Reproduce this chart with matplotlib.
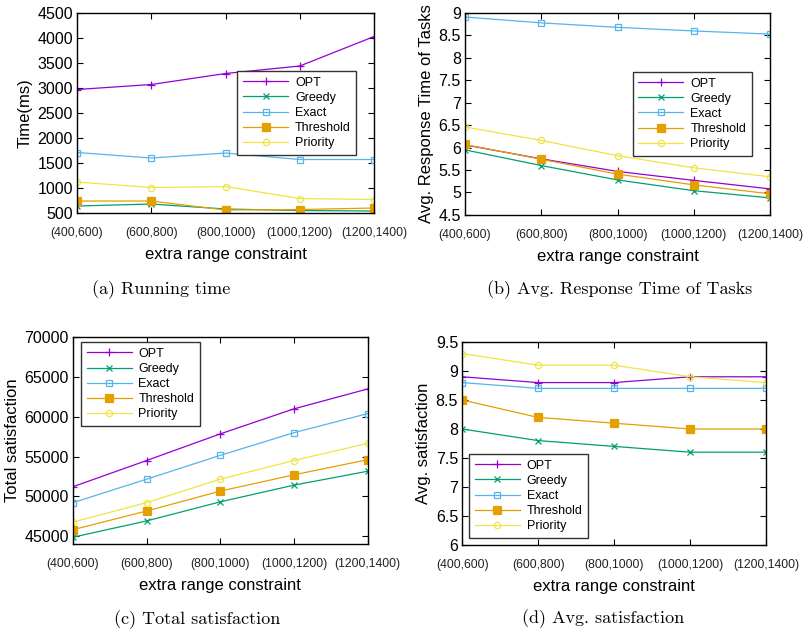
import matplotlib
matplotlib.use("Agg")
import matplotlib.pyplot as plt
import numpy as np

# 1. Input
categories = ["(400,600)", "(600,800)", "(800,1000)", "(1000,1200)", "(1200,1400)"]
names = ["OPT", "Greedy", "Exact", "Threshold", "Priority"]

time_opt = [2970, 3070, 3290, 3440, 4030]
time_greedy = [640, 680, 580, 550, 540]
time_exact = [1710, 1600, 1700, 1570, 1570]
time_threshold = [740, 740, 560, 570, 600]
time_priority = [1120, 1010, 1030, 790, 770]

resp_opt = [6.06, 5.75, 5.47, 5.27, 5.08]
resp_greedy = [5.95, 5.60, 5.28, 5.04, 4.88]
resp_exact = [8.91, 8.78, 8.68, 8.60, 8.53]
resp_threshold = [6.07, 5.74, 5.41, 5.17, 4.97]
resp_priority = [6.46, 6.16, 5.82, 5.55, 5.35]

total_opt = [51200, 54500, 57850, 61000, 63500]
total_greedy = [44850, 46900, 49300, 51400, 53150]
total_exact = [49200, 52150, 55150, 58000, 60400]
total_threshold = [45800, 48150, 50650, 52700, 54600]
total_priority = [46750, 49200, 52150, 54500, 56650]

avg_opt = [8.9, 8.8, 8.8, 8.9, 8.9]
avg_greedy = [8.0, 7.8, 7.7, 7.6, 7.6]
avg_exact = [8.8, 8.7, 8.7, 8.7, 8.7]
avg_threshold = [8.5, 8.2, 8.1, 8.0, 8.0]
avg_priority = [9.3, 9.1, 9.1, 8.9, 8.8]

# 2. Process
colors = ["#9400d3", "#009e73", "#56b4e9", "#e69f00", "#f0e442"]
markers = ["+", "x", "s", "s", "o"]
fills = [True, True, False, True, False]
sizes = [6, 4.5, 4.5, 5.5, 4.5]

panels = [
    ([time_opt, time_greedy, time_exact, time_threshold, time_priority],
     "Time(ms)", (500, 4500), np.arange(500, 4501, 500),
     [0.0953, 0.664, 0.3677, 0.3155], (0.54, 0.71), "(a) Running time", (0.20, 0.543)),
    ([resp_opt, resp_greedy, resp_exact, resp_threshold, resp_priority],
     "Avg. Response Time of Tasks", (4.5, 9), np.arange(4.5, 9.01, 0.5),
     [0.5755, 0.661, 0.3775, 0.3185], (0.55, 0.708), "(b) Avg. Response Time of Tasks", (0.767, 0.543)),
    ([total_opt, total_greedy, total_exact, total_threshold, total_priority],
     "Total satisfaction", (44000, 70000), np.arange(45000, 70001, 5000),
     [0.0903, 0.142, 0.3647, 0.326], (0.027, 0.976), "(c) Total satisfaction", (0.244, 0.022)),
    ([avg_opt, avg_greedy, avg_exact, avg_threshold, avg_priority],
     "Avg. satisfaction", (6, 9.5), np.arange(6, 9.51, 0.5),
     [0.572, 0.1404, 0.376, 0.3202], (0.023, 0.448), "(d) Avg. satisfaction", (0.746, 0.025)),
]

# 3. Output
fig = plt.figure(figsize=(8.08, 6.34), dpi=100)
plt.rcParams["font.family"] = ["Liberation Sans", "DejaVu Sans"]

x = np.arange(len(categories))
for series, ylabel, ylim, yticks, pos, legpos, caption, cappos in panels:
    ax = fig.add_axes(pos)
    for vals, name, c, m, f, s in zip(series, names, colors, markers, fills, sizes):
        ax.plot(x, vals, color=c, marker=m, markersize=s, lw=0.9, label=name,
                markerfacecolor=c if f else "none", markeredgecolor=c, markeredgewidth=0.9)
    ax.set_xlim(0, 4)
    ax.set_ylim(*ylim)
    ax.set_yticks(yticks)
    ax.set_yticklabels([("%g" % v) for v in yticks], fontsize=11.5)
    ax.set_xticks(x)
    ax.set_xticklabels(categories, fontsize=8.8, color="#222222")
    ax.tick_params(direction="in", top=True, right=True, length=4, width=0.8)
    ax.tick_params(axis="x", pad=10)
    ax.tick_params(axis="y", pad=3)
    ax.set_ylabel(ylabel, fontsize=12, labelpad=3)
    ax.set_xlabel("extra range constraint", fontsize=12, labelpad=6)
    for sp in ax.spines.values():
        sp.set_linewidth(1.0)
    leg = ax.legend(loc="upper left", bbox_to_anchor=legpos, fontsize=9, handlelength=3.6,
                    handletextpad=0.55, borderpad=0.45, labelspacing=0.25, fancybox=False,
                    framealpha=1, edgecolor="#333333", borderaxespad=0)
    leg.get_frame().set_linewidth(1.0)
    fig.text(cappos[0], cappos[1], caption, ha="center", va="center", fontsize=13,
             family="cmr10")

fig.savefig("out.png", dpi=100)
